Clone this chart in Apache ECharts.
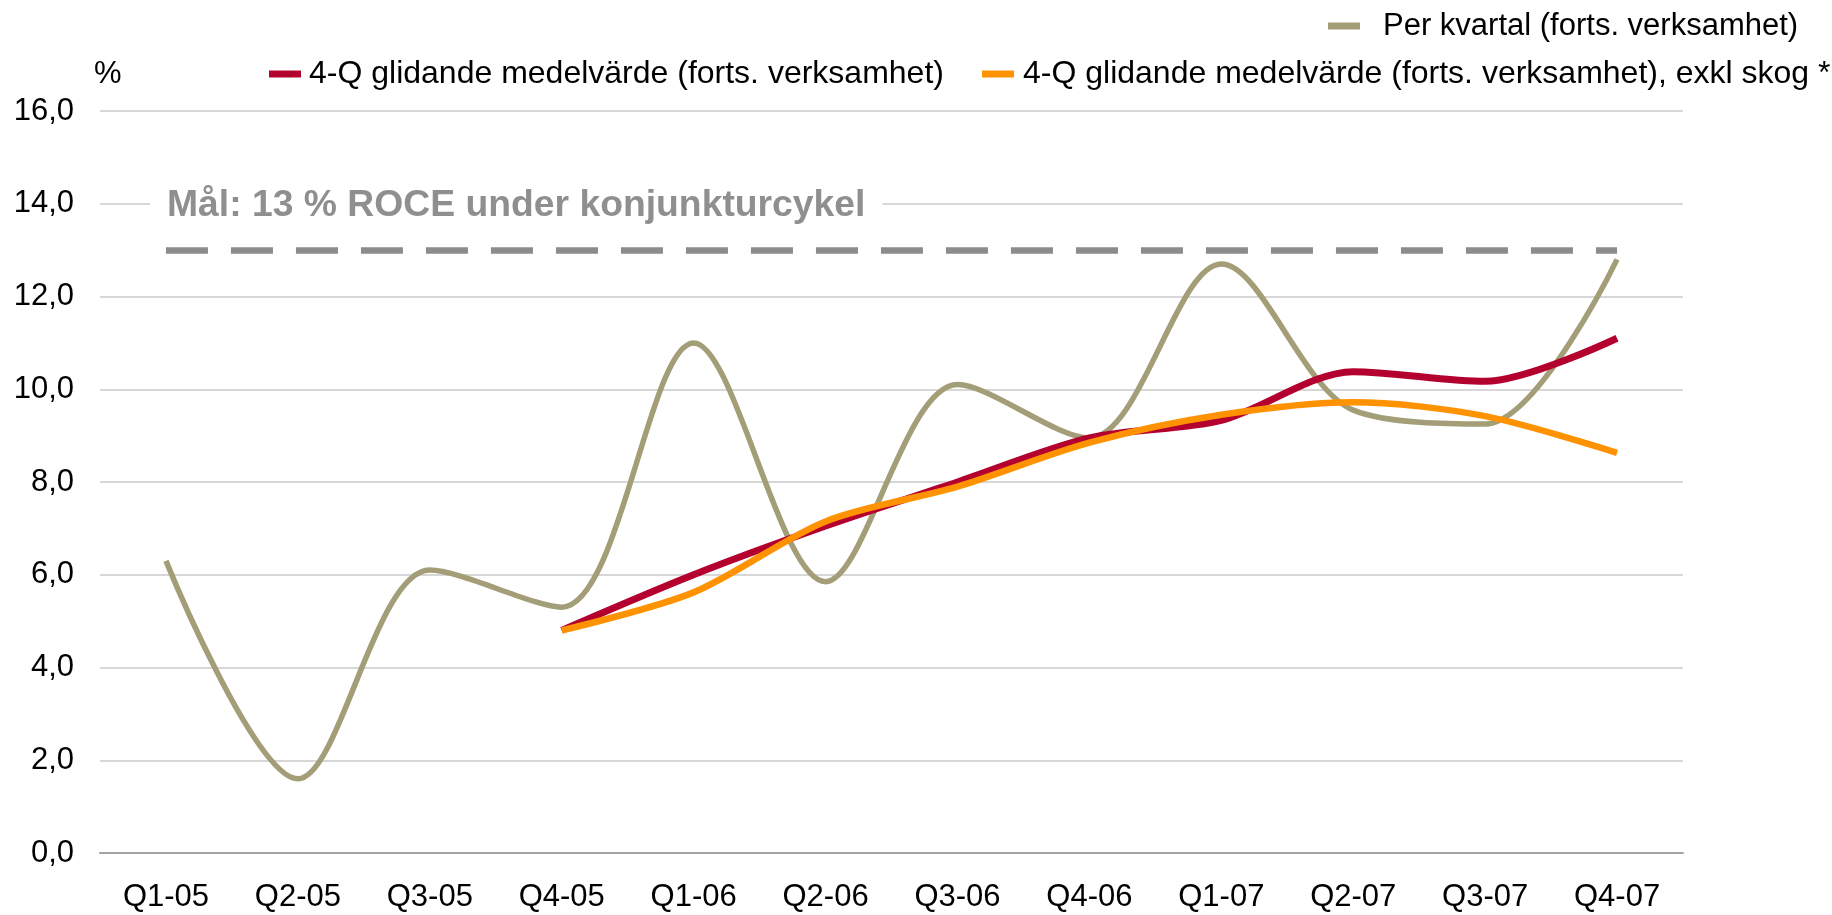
<!DOCTYPE html>
<html>
<head>
<meta charset="utf-8">
<script src="https://cdn.jsdelivr.net/npm/echarts@6/dist/echarts.min.js"></script>
<style>
  html, body { margin: 0; padding: 0; background: #ffffff; }
  #chart { width: 1832px; height: 915px; }
</style>
</head>
<body>
<div id="chart"></div>
<script>
const categories = ['Q1-05','Q2-05','Q3-05','Q4-05','Q1-06','Q2-06','Q3-06','Q4-06','Q1-07','Q2-07','Q3-07','Q4-07'];
const perKvartal = [6.3, 1.6, 6.1, 5.3, 11.0, 5.85, 10.1, 8.95, 12.7, 9.55, 9.25, 12.8];
const glidande = [null, null, null, 4.8, 6.0, 7.05, 8.0, 8.95, 9.33, 10.38, 10.17, 11.1];
const glidandeExklSkog = [null, null, null, 4.8, 5.62, 7.15, 7.9, 8.85, 9.45, 9.72, 9.42, 8.63];
const targetValue = 13;
const targetLabel = 'Mål: 13 % ROCE under konjunkturcykel';
const seriesNames = [
  'Per kvartal (forts. verksamhet)',
  '4-Q glidande medelvärde (forts. verksamhet)',
  '4-Q glidande medelvärde (forts. verksamhet), exkl skog *'
];
const yMin = 0, yMax = 16, yInterval = 2;

const FONT = '"Liberation Sans", Arial, sans-serif';
const chart = echarts.init(document.getElementById('chart'));

const legendBase = {
  padding: 0, icon: 'rect', itemWidth: 32, itemHeight: 7,
  selectedMode: false, width: 1000, orient: 'horizontal'
};

chart.setOption({
  animation: false,
  backgroundColor: '#ffffff',
  grid: { left: 100, right: 149, top: 111, bottom: 58.5, containLabel: false },
  legend: [
    Object.assign({}, legendBase, {
      data: [seriesNames[0]],
      left: 1328, top: 8, width: 500,
      textStyle: { fontFamily: FONT, fontSize: 31, color: '#000', lineHeight: 36, padding: [0, 0, 0, 18] }
    }),
    Object.assign({}, legendBase, {
      data: [seriesNames[1]],
      left: 269, top: 56, width: 700,
      textStyle: { fontFamily: FONT, fontSize: 32, color: '#000', lineHeight: 36, padding: [0, 0, 0, 3] }
    }),
    Object.assign({}, legendBase, {
      data: [seriesNames[2]],
      left: 982, top: 56, width: 850,
      textStyle: { fontFamily: FONT, fontSize: 32, color: '#000', lineHeight: 36, padding: [0, 0, 0, 4] }
    })
  ],
  xAxis: {
    type: 'category',
    data: categories,
    boundaryGap: true,
    axisLine: { show: true, lineStyle: { color: '#a3a3a3', width: 2 } },
    axisTick: { show: false },
    axisLabel: { fontFamily: FONT, fontSize: 31, color: '#000', margin: 26, lineHeight: 36 },
    splitLine: { show: false }
  },
  yAxis: {
    type: 'value',
    min: yMin, max: yMax, interval: yInterval,
    axisLine: { show: false },
    axisTick: { show: false },
    axisLabel: {
      fontFamily: FONT, fontSize: 31, color: '#000', margin: 26,
      formatter: v => v.toFixed(1).replace('.', ',')
    },
    splitLine: { show: true, lineStyle: { color: '#cacaca', width: 1.5 } }
  },
  graphic: [
    {
      type: 'text', left: 94, top: 59, z: 10,
      style: { text: '%', fontFamily: FONT, fontSize: 31, fill: '#000' }
    },
    {
      type: 'text', x: 150, y: 206, z: 10,
      style: {
        text: targetLabel, fontFamily: FONT, fontSize: 37.3, fontWeight: 'bold',
        fill: '#8f8f8f', backgroundColor: '#ffffff', padding: [4, 17, 4, 17],
        textAlign: 'left', textVerticalAlign: 'middle'
      }
    }
  ],
  series: [
    {
      name: seriesNames[0],
      type: 'line',
      data: perKvartal,
      smooth: 0.32,
      showSymbol: false,
      symbol: 'none',
      color: '#a39e77',
      lineStyle: { color: '#a39e77', width: 5.5 },
      z: 2,
      markLine: {
        silent: true,
        symbol: ['none', 'none'],
        label: { show: false },
        lineStyle: { color: '#8c8c8c', width: 6.5, type: [42, 23] },
        data: [[
          { coord: [categories[0], targetValue] },
          { coord: [categories[categories.length - 1], targetValue] }
        ]]
      }
    },
    {
      name: seriesNames[1],
      type: 'line',
      data: glidande,
      smooth: 0.3,
      showSymbol: false,
      symbol: 'none',
      color: '#b4002e',
      lineStyle: { color: '#b4002e', width: 7 },
      z: 3
    },
    {
      name: seriesNames[2],
      type: 'line',
      data: glidandeExklSkog,
      smooth: 0.3,
      showSymbol: false,
      symbol: 'none',
      color: '#ff9200',
      lineStyle: { color: '#ff9200', width: 6.5 },
      z: 4
    }
  ]
});
</script>
</body>
</html>
